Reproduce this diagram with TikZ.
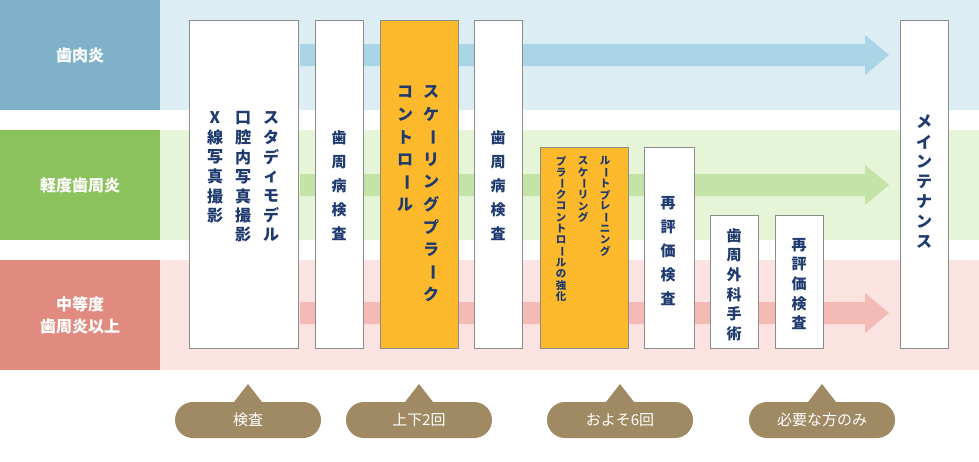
\documentclass[tikz,border=0pt]{standalone}
\usepackage{fontspec}
\usepackage{graphicx}
\setmainfont{Noto Sans CJK JP}
\usetikzlibrary{shapes.geometric}
\definecolor{navy}{HTML}{1F3A6E}
\definecolor{rb1}{HTML}{7FB2C9}\definecolor{bg1}{HTML}{DDEDF4}\definecolor{ar1}{HTML}{A9D5E6}
\definecolor{rb2}{HTML}{8CC25C}\definecolor{bg2}{HTML}{E6F4D7}\definecolor{ar2}{HTML}{C4E3A6}
\definecolor{rb3}{HTML}{E08A80}\definecolor{bg3}{HTML}{FBE3E1}\definecolor{ar3}{HTML}{F4BAB5}
\definecolor{org}{HTML}{FBB92B}\definecolor{pill}{HTML}{A08A64}
\newcommand\vb{\rotatebox[origin=c]{-90}{ー}}
\newcommand\bx[6]{\node[box,fill=#6,minimum width={(#4-#2)*1pt},minimum height={(#5-#3)*1pt}] (#1) at ({(#2+#4)/2},{(#3+#5)/2}) {};}
% x, y0, spacing, size, list
\newcommand\vcol[5]{\foreach \c [count=\i] in {#5} \node[ch,font=\fontsize{#4}{#4}\selectfont\bfseries] at (#1,{#2+(\i-1)*#3}) {\c};}
\newcommand\arw[3]{\fill[#3] (300,#1-11) -- (865,#1-11) -- (865,#1-20) -- (889,#1) -- (865,#1+20) -- (865,#1+11) -- (300,#1+11) -- cycle;}
\begin{document}
\begin{tikzpicture}[x=1pt,y=-1pt,
  box/.style={draw=black!45,line width=0.6pt,inner sep=0pt,rectangle},
  ch/.style={text=navy,inner sep=0pt,anchor=center},
  lab/.style={text=white,font=\fontsize{16}{22}\selectfont\bfseries,align=center},
  pl/.style={fill=pill,rounded corners=18pt,minimum width=146pt,minimum height=36pt,text=white,font=\fontsize{15}{15}\selectfont,inner sep=0pt}]
\useasboundingbox (0,0) rectangle (979,461);
\fill[bg1] (160,0) rectangle (979,110);
\fill[bg2] (160,130) rectangle (979,240);
\fill[bg3] (160,260) rectangle (979,370);
\node[fill=rb1,minimum width=160pt,minimum height=110pt,inner sep=0pt] (r1) at (80,55) {};
\node[fill=rb2,minimum width=160pt,minimum height=110pt,inner sep=0pt] (r2) at (80,185) {};
\node[fill=rb3,minimum width=160pt,minimum height=110pt,inner sep=0pt] (r3) at (80,315) {};
\node[lab] (l1) at (80,55) {歯肉炎};
\node[lab] (l2) at (80,185) {軽度歯周炎};
\node[lab] (l3) at (80,315) {中等度\\歯周炎以上};
\arw{55}{}{ar1}
\arw{185}{}{ar2}
\arw{313}{}{ar3}
\bx{a}{189}{20}{298}{348}{white}
\bx{b}{315}{20}{363}{348}{white}
\bx{c}{380}{20}{458}{348}{org}
\bx{d}{474}{20}{522}{348}{white}
\bx{e}{540}{147}{628}{348}{org}
\bx{f}{644}{147}{694}{348}{white}
\bx{g}{710}{215}{758}{348}{white}
\bx{h}{775}{215}{823}{348}{white}
\bx{i}{900}{20}{948}{348}{white}
\vcol{271}{118}{19.5}{16}{ス,タ,デ,ィ,モ,デ,ル}
\vcol{243}{118}{19.5}{16}{口,腔,内,写,真,撮,影}
\vcol{215}{118}{19.5}{16}{X,線,写,真,撮,影}
\vcol{339}{138}{24}{15}{歯,周,病,検,査}
\vcol{431}{92}{22.5}{16}{ス,ケ,\vb,リ,ン,グ,プ,ラ,\vb,ク}
\vcol{405}{92}{22.5}{16}{コ,ン,ト,ロ,\vb,ル}
\vcol{498}{138}{24}{15}{歯,周,病,検,査}
\vcol{605}{161}{11.3}{10.5}{ル,\vb,ト,プ,レ,\vb,ニ,ン,グ}
\vcol{583}{161}{11.3}{10.5}{ス,ケ,\vb,リ,ン,グ}
\vcol{561}{161}{11.3}{10.5}{プ,ラ,\vb,ク,コ,ン,ト,ロ,\vb,ル,の,強,化}
\vcol{668}{203}{24}{15}{再,評,価,検,査}
\vcol{734}{236}{19.5}{15}{歯,周,外,科,手,術}
\vcol{799}{245}{19.5}{15}{再,評,価,検,査}
\vcol{924}{122}{20}{16}{メ,イ,ン,テ,ナ,ン,ス}
\foreach \n/\x/\t in {p1/248/検査,p2/419/上下2回,p3/620/およそ6回,p4/822/必要な方のみ}{
  \fill[pill] (\x-14,402) -- (\x,384) -- (\x+14,402) -- cycle;
  \node[pl] (\n) at (\x,420) {\t};}
\end{tikzpicture}
\end{document}
